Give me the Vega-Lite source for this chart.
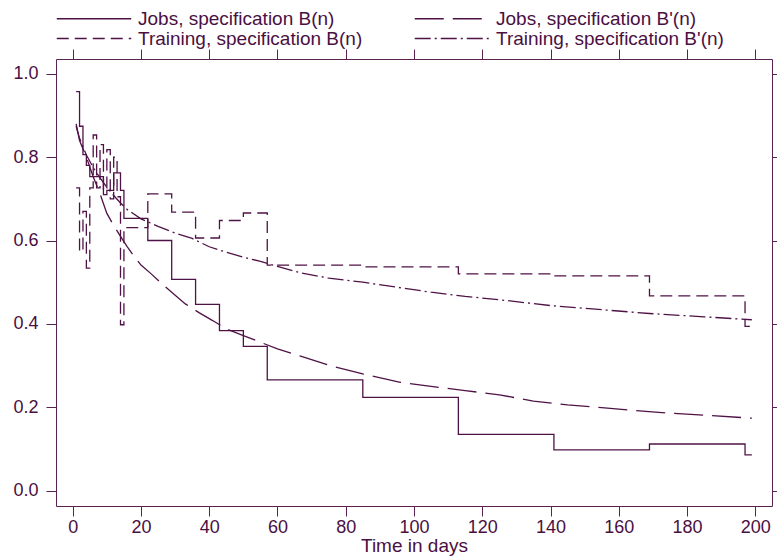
{
  "$schema": "https://vega.github.io/schema/vega-lite/v6.json",
  "width": 716,
  "height": 447,
  "autosize": {"type": "none"},
  "padding": {"left": 56, "top": 59, "right": 5, "bottom": 54},
  "background": "white",
  "config": {
    "view": {"stroke": "#5a2352", "strokeWidth": 1},
    "font": "Liberation Sans",
    "axis": {"labelColor": "#4a1042", "titleColor": "#4a1042", "tickColor": "#5a2352", "domain": false, "grid": false, "labelFont": "Liberation Sans", "titleFont": "Liberation Sans"},
    "legend": {"labelColor": "#4a1042", "labelFont": "Liberation Sans"}
  },
  "datasets": {
    "curves": [
      {"series": "Jobs, specification B(n)", "day": 1, "value": 0.957},
      {"series": "Jobs, specification B(n)", "day": 2, "value": 0.874},
      {"series": "Jobs, specification B(n)", "day": 3, "value": 0.806},
      {"series": "Jobs, specification B(n)", "day": 4, "value": 0.78},
      {"series": "Jobs, specification B(n)", "day": 5, "value": 0.753},
      {"series": "Jobs, specification B(n)", "day": 9, "value": 0.71},
      {"series": "Jobs, specification B(n)", "day": 10, "value": 0.72},
      {"series": "Jobs, specification B(n)", "day": 12, "value": 0.762},
      {"series": "Jobs, specification B(n)", "day": 14, "value": 0.72},
      {"series": "Jobs, specification B(n)", "day": 15, "value": 0.653},
      {"series": "Jobs, specification B(n)", "day": 22, "value": 0.6},
      {"series": "Jobs, specification B(n)", "day": 29, "value": 0.507},
      {"series": "Jobs, specification B(n)", "day": 36, "value": 0.447},
      {"series": "Jobs, specification B(n)", "day": 43, "value": 0.384},
      {"series": "Jobs, specification B(n)", "day": 50, "value": 0.346},
      {"series": "Jobs, specification B(n)", "day": 57, "value": 0.266},
      {"series": "Jobs, specification B(n)", "day": 85, "value": 0.224},
      {"series": "Jobs, specification B(n)", "day": 113, "value": 0.135},
      {"series": "Jobs, specification B(n)", "day": 141, "value": 0.098},
      {"series": "Jobs, specification B(n)", "day": 169, "value": 0.112},
      {"series": "Jobs, specification B(n)", "day": 197, "value": 0.086},
      {"series": "Jobs, specification B(n)", "day": 199, "value": 0.086},

      {"series": "Training, specification B(n)", "day": 1, "value": 0.726},
      {"series": "Training, specification B(n)", "day": 2, "value": 0.574},
      {"series": "Training, specification B(n)", "day": 3, "value": 0.67},
      {"series": "Training, specification B(n)", "day": 4, "value": 0.534},
      {"series": "Training, specification B(n)", "day": 5, "value": 0.726},
      {"series": "Training, specification B(n)", "day": 6, "value": 0.853},
      {"series": "Training, specification B(n)", "day": 7, "value": 0.726},
      {"series": "Training, specification B(n)", "day": 8, "value": 0.83},
      {"series": "Training, specification B(n)", "day": 9, "value": 0.72},
      {"series": "Training, specification B(n)", "day": 10, "value": 0.818},
      {"series": "Training, specification B(n)", "day": 11, "value": 0.7},
      {"series": "Training, specification B(n)", "day": 12, "value": 0.8},
      {"series": "Training, specification B(n)", "day": 13, "value": 0.705},
      {"series": "Training, specification B(n)", "day": 14, "value": 0.398},
      {"series": "Training, specification B(n)", "day": 15, "value": 0.631},
      {"series": "Training, specification B(n)", "day": 22, "value": 0.712},
      {"series": "Training, specification B(n)", "day": 29, "value": 0.668},
      {"series": "Training, specification B(n)", "day": 36, "value": 0.606},
      {"series": "Training, specification B(n)", "day": 43, "value": 0.648},
      {"series": "Training, specification B(n)", "day": 50, "value": 0.666},
      {"series": "Training, specification B(n)", "day": 57, "value": 0.541},
      {"series": "Training, specification B(n)", "day": 85, "value": 0.537},
      {"series": "Training, specification B(n)", "day": 113, "value": 0.52},
      {"series": "Training, specification B(n)", "day": 141, "value": 0.515},
      {"series": "Training, specification B(n)", "day": 169, "value": 0.467},
      {"series": "Training, specification B(n)", "day": 197, "value": 0.394},
      {"series": "Training, specification B(n)", "day": 199, "value": 0.394},

      {"series": "Jobs, specification B'(n)", "day": 1, "value": 0.88},
      {"series": "Jobs, specification B'(n)", "day": 2, "value": 0.84},
      {"series": "Jobs, specification B'(n)", "day": 4, "value": 0.8},
      {"series": "Jobs, specification B'(n)", "day": 6, "value": 0.753},
      {"series": "Jobs, specification B'(n)", "day": 8, "value": 0.712},
      {"series": "Jobs, specification B'(n)", "day": 10, "value": 0.665},
      {"series": "Jobs, specification B'(n)", "day": 12, "value": 0.636},
      {"series": "Jobs, specification B'(n)", "day": 14, "value": 0.61},
      {"series": "Jobs, specification B'(n)", "day": 16, "value": 0.585},
      {"series": "Jobs, specification B'(n)", "day": 18, "value": 0.562},
      {"series": "Jobs, specification B'(n)", "day": 20, "value": 0.541},
      {"series": "Jobs, specification B'(n)", "day": 23, "value": 0.52},
      {"series": "Jobs, specification B'(n)", "day": 26, "value": 0.497},
      {"series": "Jobs, specification B'(n)", "day": 29, "value": 0.476},
      {"series": "Jobs, specification B'(n)", "day": 33, "value": 0.448},
      {"series": "Jobs, specification B'(n)", "day": 37, "value": 0.427},
      {"series": "Jobs, specification B'(n)", "day": 41, "value": 0.408},
      {"series": "Jobs, specification B'(n)", "day": 45, "value": 0.388},
      {"series": "Jobs, specification B'(n)", "day": 50, "value": 0.372},
      {"series": "Jobs, specification B'(n)", "day": 55, "value": 0.356},
      {"series": "Jobs, specification B'(n)", "day": 60, "value": 0.34},
      {"series": "Jobs, specification B'(n)", "day": 67, "value": 0.322},
      {"series": "Jobs, specification B'(n)", "day": 75, "value": 0.301},
      {"series": "Jobs, specification B'(n)", "day": 85, "value": 0.28},
      {"series": "Jobs, specification B'(n)", "day": 96, "value": 0.26},
      {"series": "Jobs, specification B'(n)", "day": 105, "value": 0.25},
      {"series": "Jobs, specification B'(n)", "day": 115, "value": 0.24},
      {"series": "Jobs, specification B'(n)", "day": 125, "value": 0.23},
      {"series": "Jobs, specification B'(n)", "day": 135, "value": 0.215},
      {"series": "Jobs, specification B'(n)", "day": 145, "value": 0.206},
      {"series": "Jobs, specification B'(n)", "day": 155, "value": 0.199},
      {"series": "Jobs, specification B'(n)", "day": 165, "value": 0.192},
      {"series": "Jobs, specification B'(n)", "day": 175, "value": 0.186},
      {"series": "Jobs, specification B'(n)", "day": 185, "value": 0.181},
      {"series": "Jobs, specification B'(n)", "day": 199, "value": 0.174},

      {"series": "Training, specification B'(n)", "day": 1, "value": 0.874},
      {"series": "Training, specification B'(n)", "day": 2, "value": 0.845},
      {"series": "Training, specification B'(n)", "day": 4, "value": 0.805},
      {"series": "Training, specification B'(n)", "day": 6, "value": 0.775},
      {"series": "Training, specification B'(n)", "day": 8, "value": 0.75},
      {"series": "Training, specification B'(n)", "day": 10, "value": 0.728},
      {"series": "Training, specification B'(n)", "day": 12, "value": 0.708},
      {"series": "Training, specification B'(n)", "day": 14, "value": 0.69},
      {"series": "Training, specification B'(n)", "day": 16, "value": 0.674},
      {"series": "Training, specification B'(n)", "day": 20, "value": 0.652},
      {"series": "Training, specification B'(n)", "day": 25, "value": 0.634},
      {"series": "Training, specification B'(n)", "day": 30, "value": 0.618},
      {"series": "Training, specification B'(n)", "day": 35, "value": 0.605},
      {"series": "Training, specification B'(n)", "day": 40, "value": 0.585},
      {"series": "Training, specification B'(n)", "day": 45, "value": 0.572},
      {"series": "Training, specification B'(n)", "day": 50, "value": 0.56},
      {"series": "Training, specification B'(n)", "day": 55, "value": 0.55},
      {"series": "Training, specification B'(n)", "day": 60, "value": 0.538},
      {"series": "Training, specification B'(n)", "day": 67, "value": 0.522},
      {"series": "Training, specification B'(n)", "day": 75, "value": 0.51},
      {"series": "Training, specification B'(n)", "day": 85, "value": 0.5},
      {"series": "Training, specification B'(n)", "day": 95, "value": 0.488},
      {"series": "Training, specification B'(n)", "day": 105, "value": 0.476},
      {"series": "Training, specification B'(n)", "day": 115, "value": 0.466},
      {"series": "Training, specification B'(n)", "day": 125, "value": 0.458},
      {"series": "Training, specification B'(n)", "day": 140, "value": 0.444},
      {"series": "Training, specification B'(n)", "day": 155, "value": 0.434},
      {"series": "Training, specification B'(n)", "day": 169, "value": 0.425},
      {"series": "Training, specification B'(n)", "day": 185, "value": 0.417},
      {"series": "Training, specification B'(n)", "day": 199, "value": 0.41}
    ]
  },
  "data": {"name": "curves"},
  "resolve": {"axis": {"x": "independent", "y": "independent"}},
  "layer": [
    {
      "transform": [{"filter": {"field": "series", "oneOf": ["Jobs, specification B(n)", "Training, specification B(n)"]}}],
      "mark": {"type": "line", "interpolate": "step-after", "stroke": "#4f1246", "strokeWidth": 1.3},
      "encoding": {
        "x": {"field": "day", "type": "quantitative", "scale": {"domain": [-4.9, 204.9], "nice": false, "zero": false},
          "axis": {"orient": "bottom", "values": [0, 20, 40, 60, 80, 100, 120, 140, 160, 180, 200], "tickSize": 10, "labelFontSize": 18, "labelPadding": 2, "title": "Time in days", "titleFontSize": 19, "titleFontWeight": "normal", "titlePadding": 0}},
        "y": {"field": "value", "type": "quantitative", "scale": {"domain": [-0.0367, 1.0353], "nice": false, "zero": false},
          "axis": {"orient": "left", "values": [0, 0.2, 0.4, 0.6, 0.8, 1.0], "format": ".1f", "tickSize": 10, "labelFontSize": 18, "labelPadding": 8, "title": null}},
        "strokeDash": {"field": "series", "type": "nominal",
          "scale": {"domain": ["Jobs, specification B(n)", "Jobs, specification B'(n)", "Training, specification B(n)", "Training, specification B'(n)"],
                    "range": [[1, 0], [29, 9], [12, 6], [16, 4, 2, 4]]},
          "legend": {"orient": "none", "legendX": 0, "legendY": -50, "direction": "horizontal", "columns": 2, "title": null, "symbolType": "stroke", "symbolSize": 5550, "symbolStrokeWidth": 1.3, "symbolStrokeColor": "#4f1246", "labelFontSize": 19, "labelOffset": 6, "labelLimit": 400, "rowPadding": 0, "columnPadding": 51, "padding": 0, "clipHeight": 19}}
      }
    },
    {
      "transform": [{"filter": {"field": "series", "oneOf": ["Jobs, specification B'(n)", "Training, specification B'(n)"]}}],
      "mark": {"type": "line", "interpolate": "linear", "stroke": "#4f1246", "strokeWidth": 1.3},
      "encoding": {
        "x": {"field": "day", "type": "quantitative", "scale": {"domain": [-4.9, 204.9], "nice": false, "zero": false}, "axis": null},
        "y": {"field": "value", "type": "quantitative", "scale": {"domain": [-0.0367, 1.0353], "nice": false, "zero": false}, "axis": null},
        "strokeDash": {"field": "series", "type": "nominal"}
      }
    },
    {
      "mark": {"type": "line", "strokeOpacity": 0},
      "encoding": {
        "x": {"field": "day", "type": "quantitative", "scale": {"domain": [-4.9, 204.9], "nice": false, "zero": false},
          "axis": {"orient": "top", "values": [0, 20, 40, 60, 80, 100, 120, 140, 160, 180, 200], "tickSize": 10, "labels": false, "title": null}},
        "y": {"field": "value", "type": "quantitative", "scale": {"domain": [-0.0367, 1.0353], "nice": false, "zero": false},
          "axis": {"orient": "right", "values": [0, 0.2, 0.4, 0.6, 0.8, 1.0], "tickSize": 10, "labels": false, "title": null}},
        "detail": {"field": "series"}
      }
    }
  ]
}
